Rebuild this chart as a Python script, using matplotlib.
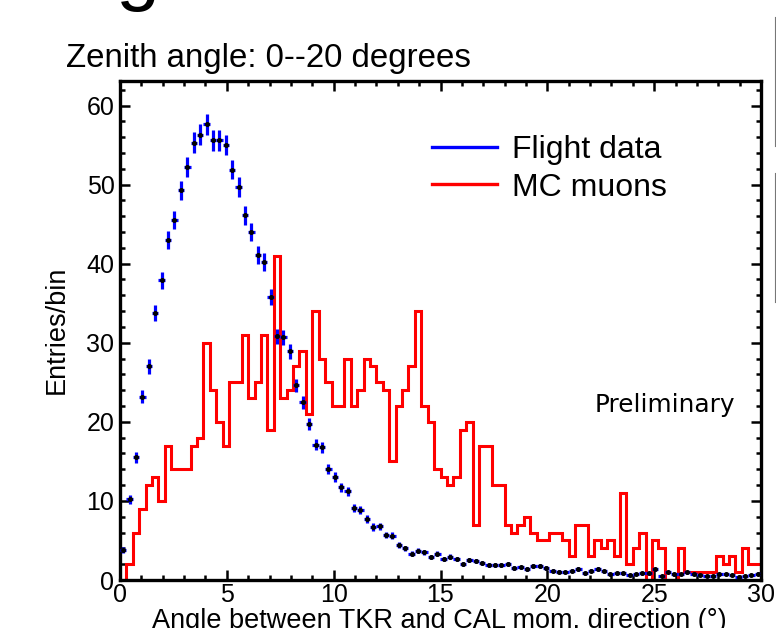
import numpy as np
import matplotlib
matplotlib.use("Agg")
import matplotlib.pyplot as plt
from matplotlib.lines import Line2D
from matplotlib.ticker import MultipleLocator

plt.rcParams['font.family'] = ['Liberation Sans', 'DejaVu Sans']

# binning: 100 bins of 0.3 degrees from 0 to 30
bin_edges = np.linspace(0, 30, 101)
bin_centers = 0.5 * (bin_edges[:-1] + bin_edges[1:])

# flight data (scaled entries per bin)
flight = [3.8, 10.2, 15.5, 23.2, 27.0, 33.8, 37.9, 43.0, 45.5, 49.3,
          52.2, 55.3, 56.3, 57.6, 55.6, 55.6, 55.0, 51.9, 49.7, 46.1,
          44.0, 41.1, 40.2, 35.8, 30.8, 30.7, 28.9, 24.6, 22.5, 19.7,
          17.1, 16.8, 14.0, 13.0, 11.7, 11.2, 9.1, 8.9, 7.7, 6.7,
          6.8, 5.7, 5.6, 4.4, 4.0, 3.3, 3.7, 3.5, 2.9, 3.3,
          2.65, 2.95, 2.65, 2.0, 2.5, 2.4, 2.2, 1.9, 1.9, 1.9,
          2.0, 1.5, 1.6, 1.4, 1.8, 1.8, 1.5, 1.2, 1.05, 1.0,
          1.2, 1.4, 0.85, 1.2, 1.4, 1.1, 0.75, 0.85, 0.85, 0.65,
          0.75, 0.85, 0.85, 1.35, 0.45, 1.0, 0.7, 0.75, 0.95, 0.8,
          0.6, 0.55, 0.55, 0.7, 0.75, 0.6, 0.4, 0.55, 0.6, 0.8]

# MC muons (entries per bin)
mc_muons = [0, 2, 6, 9, 12, 13, 10, 17, 14, 14,
            14, 17, 18, 30, 24, 20, 17, 25, 25, 31,
            23, 25, 31, 19, 41, 23, 24, 27, 29, 21,
            34, 28, 25, 22, 22, 28, 22, 24, 28, 27,
            25, 24, 15, 22, 24, 27, 34, 22, 20, 14,
            13, 12, 13, 19, 20, 7, 17, 17, 12, 12,
            7, 6, 7, 8, 6, 5, 5, 6, 6, 5,
            3, 7, 7, 3, 5, 4, 5, 3, 11, 2,
            4, 6, 0, 5, 4, 0, 0, 4, 1, 1,
            1, 1, 1, 3, 2, 3, 1, 4, 2, 2]

# statistical error of the scaled flight histogram
flight_scale = 0.03
flight_err = np.sqrt(np.array(flight) * flight_scale)

W, H = 776, 628
fig = plt.figure(figsize=(W / 100, H / 100), dpi=100)
ax = fig.add_axes([120 / W, 48 / H, 641 / W, 499 / H])

ax.stairs(mc_muons, bin_edges, color='red', lw=2.2, zorder=2)
ax.errorbar(bin_centers, flight, yerr=flight_err, xerr=0.15, fmt='o',
            ms=2.6, mfc='black', mec='black', ecolor='blue',
            elinewidth=2.3, capsize=0, zorder=3)

ax.set_xlim(0, 30)
ax.set_ylim(0, 63.1)
ax.xaxis.set_major_locator(MultipleLocator(5))
ax.xaxis.set_minor_locator(MultipleLocator(1))
ax.yaxis.set_major_locator(MultipleLocator(10))
ax.yaxis.set_minor_locator(MultipleLocator(2))
ax.tick_params(which='both', direction='in', top=True, right=True,
               width=1.8, labelsize=18)
ax.tick_params(which='major', length=7.5)
ax.tick_params(which='minor', length=3.8)
ax.tick_params(axis='x', pad=2)
ax.tick_params(axis='y', pad=4)
for sp in ax.spines.values():
    sp.set_linewidth(2.4)

legend_handles = [Line2D([], [], color='blue', lw=2.4),
                  Line2D([], [], color='red', lw=2.4)]
ax.legend(legend_handles, ['Flight data', 'MC muons'], frameon=False,
          fontsize=23, handlelength=2.03, handletextpad=0.47,
          labelspacing=0.24, borderpad=0, borderaxespad=0,
          loc='upper left', bbox_to_anchor=(432 / W, (H - 135) / H),
          bbox_transform=fig.transFigure)

fig.text(595 / W, (H - 412) / H, 'Preliminary', family='DejaVu Sans',
         fontsize=17.8, va='baseline')

fig.text(66 / W, (H - 67) / H, 'Zenith angle: 0--20 degrees', fontsize=23.8,
         va='baseline')
fig.text(57 / W, (H - 329.5) / H, 'Entries/bin', fontsize=19.5, rotation=90,
         ha='center', va='center')
fig.text(152 / W, 0.0, 'Angle between TKR and CAL mom. direction (°)',
         fontsize=19.5, va='baseline')

# pieces of the surrounding slide
fig.text(116 / W, (H + 4.6) / H, 'g', fontsize=57, va='baseline')
fig.add_artist(Line2D([775 / W, 775 / W], [(H - 17) / H, (H - 146) / H],
                      color='#777777', lw=0.8))
fig.add_artist(Line2D([775 / W, 775 / W], [(H - 173) / H, (H - 302) / H],
                      color='#777777', lw=0.8))

fig.savefig('out.png', dpi=100)
